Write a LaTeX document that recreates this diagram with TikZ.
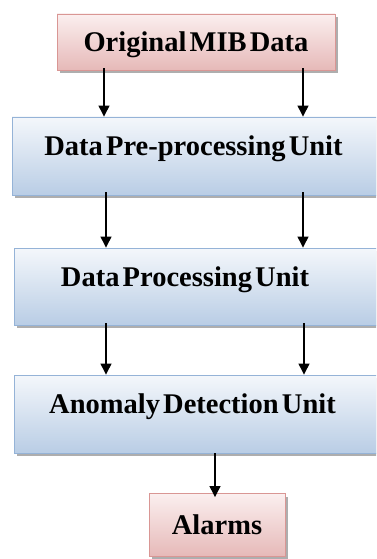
\documentclass[tikz,border=0pt]{standalone}
\usepackage{fontspec}
\setmainfont[WordSpace=0.45]{Liberation Serif}
\usetikzlibrary{arrows.meta,shadows}
\definecolor{redtop}{HTML}{FBEFEF}
\definecolor{redbot}{HTML}{E6B9B8}
\definecolor{redline}{HTML}{D99694}
\definecolor{bluetop}{HTML}{F4F7FB}
\definecolor{bluebot}{HTML}{B9CDE5}
\definecolor{blueline}{HTML}{95B3D7}
\definecolor{shadowgray}{HTML}{9A9A9A}
\tikzset{
  redbox/.style={rectangle, draw=redline, line width=0.9pt, top color=redtop, bottom color=redbot,
    drop shadow={shadow xshift=3pt, shadow yshift=-3pt, fill=shadowgray, opacity=0.8},
    font=\fontsize{28.5}{30}\selectfont\bfseries, text height=19pt, text depth=0pt, inner sep=0pt},
  bluebox/.style={rectangle, draw=blueline, line width=0.9pt, top color=bluetop, bottom color=bluebot,
    drop shadow={shadow xshift=3pt, shadow yshift=-3pt, fill=shadowgray, opacity=0.8}, inner sep=0pt},
  boxtext/.style={anchor=base, inner sep=0pt, font=\fontsize{28.5}{30}\selectfont\bfseries, text=black},
  arr/.style={line width=1.3pt, -{Triangle[width=11pt,length=11pt]}}
}
\begin{document}
\begin{tikzpicture}[x=1pt,y=-1pt]
\useasboundingbox (0,0) rectangle (376,559);
\clip (0,0) rectangle (376,559);
\fill[white] (0,0) rectangle (376,559);
% boxes
\node[redbox, minimum width=278pt, minimum height=56pt] (orig) at (196,42) {Original MIB Data};
\node[bluebox, minimum width=378pt, minimum height=78pt] (pre) at (201,156) {};
\node[bluebox, minimum width=376pt, minimum height=77pt] (proc) at (202,286.5) {};
\node[bluebox, minimum width=376pt, minimum height=78pt] (anom) at (202,414) {};
\node[redbox, minimum width=136pt, minimum height=63pt] (alarm) at (217,525) {Alarms};
% texts
\node[boxtext] (preT) at (193.5,155) {Data Pre-processing Unit};
\node[boxtext] (procT) at (185,286) {Data Processing Unit};
\node[boxtext] (anomT) at (192.5,413) {Anomaly Detection Unit};
% arrow columns
\coordinate (cL1) at (104,0);
\coordinate (cR1) at (303,0);
\coordinate (cL2) at (106,0);
\coordinate (cR2) at (303,0);
\coordinate (cL3) at (106,0);
\coordinate (cR3) at (304,0);
\coordinate (cM) at (215,0);
% arrows
\draw[arr] ([yshift=2pt]orig.south -| cL1) -- (pre.north -| cL1);
\draw[arr] ([yshift=2pt]orig.south -| cR1) -- (pre.north -| cR1);
\draw[arr] ([yshift=3pt]pre.south -| cL2) -- (proc.north -| cL2);
\draw[arr] ([yshift=3pt]pre.south -| cR2) -- (proc.north -| cR2);
\draw[arr] ([yshift=2pt]proc.south -| cL3) -- (anom.north -| cL3);
\draw[arr] ([yshift=2pt]proc.south -| cR3) -- (anom.north -| cR3);
\draw[arr] ([yshift=0pt]anom.south -| cM) -- ([yshift=-4pt]alarm.north -| cM);
\end{tikzpicture}
\end{document}
